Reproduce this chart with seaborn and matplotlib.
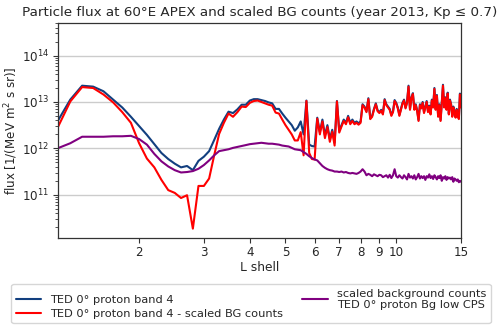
import numpy as np
import pandas as pd
import matplotlib
matplotlib.use("Agg")
import matplotlib.pyplot as plt
import matplotlib.ticker as mticker
import seaborn as sns

# L shell sampling grid (step 0.1 from 1.2 to 15.0)
L_shell = np.round(np.arange(1.2, 15.0001, 0.1), 1)

# log10 of flux values
band4_log10 = [
    12.58, 13.05, 13.35, 13.33, 13.23, 13.05, 12.88, 12.68, 12.48, 12.29,   # 1.2-2.1
    12.09, 11.90, 11.77, 11.67, 11.59, 11.62, 11.53, 11.73, 11.82, 11.94,   # 2.2-3.1
    12.18, 12.42, 12.62, 12.79, 12.76, 12.84, 12.94, 12.94, 13.03, 13.06,   # 3.2-4.1
    13.06, 13.04, 13.02, 12.99, 12.97, 12.85, 12.85, 12.75, 12.66, 12.58,   # 4.2-5.1
    12.50, 12.38, 12.45, 12.58, 12.30, 13.03, 12.08, 12.05, 12.04, 12.66,   # 5.2-6.1
    12.35, 12.62, 12.28, 12.50, 12.20, 12.40, 12.12, 13.02, 12.38, 12.50,   # 6.2-7.1
    12.62, 12.55, 12.70, 12.55, 12.62, 12.55, 12.58, 12.54, 12.58, 12.95,   # 7.2-8.1
    12.90, 12.80, 13.08, 12.65, 12.70, 12.85, 12.97, 12.82, 12.78, 12.83,   # 8.2-9.1
    12.75, 13.06, 12.95, 12.90, 12.85, 12.72, 12.80, 13.04, 12.98, 12.88,   # 9.2-10.1
    12.72, 12.85, 12.98, 13.05, 12.88, 13.00, 13.35, 12.85, 13.10, 13.19,   # 10.2-11.1
    12.85, 12.95, 12.82, 12.61, 12.95, 12.88, 13.00, 12.78, 12.90, 13.02,   # 11.2-12.1
    12.80, 12.92, 12.75, 13.05, 12.90, 13.30, 12.85, 13.15, 12.70, 12.95,   # 12.2-13.1
    12.61, 13.00, 13.37, 12.90, 13.10, 12.85, 13.20, 12.75, 13.05, 12.95,   # 13.2-14.1
    12.70, 12.90, 12.78, 12.68, 12.85, 12.72, 12.65, 13.18, 12.90,          # 14.2-15.0
]

corrected_log10 = [
    12.44, 13.01, 13.32, 13.30, 13.16, 12.99, 12.78, 12.55, 12.11, 11.78,   # 1.2-2.1
    11.59, 11.32, 11.10, 11.04, 10.93, 10.99, 10.27, 11.19, 11.19, 11.35,   # 2.2-3.1
    11.85, 12.31, 12.55, 12.75, 12.68, 12.78, 12.90, 12.89, 12.98, 13.02,   # 3.2-4.1
    13.03, 13.00, 12.97, 12.94, 12.92, 12.77, 12.75, 12.62, 12.50, 12.40,   # 4.2-5.1
    12.30, 12.17, 12.17, 12.35, 11.85, 13.02, 11.90, 11.77, 11.76, 12.64,   # 5.2-6.1
    12.30, 12.58, 12.22, 12.46, 12.14, 12.36, 12.06, 13.01, 12.34, 12.47,   # 6.2-7.1
    12.59, 12.52, 12.67, 12.52, 12.59, 12.52, 12.55, 12.51, 12.55, 12.93,   # 7.2-8.1
    12.88, 12.78, 13.06, 12.63, 12.68, 12.83, 12.95, 12.80, 12.76, 12.81,   # 8.2-9.1
    12.73, 13.04, 12.93, 12.88, 12.83, 12.70, 12.78, 13.02, 12.96, 12.86,   # 9.2-10.1
    12.70, 12.83, 12.96, 13.03, 12.86, 12.98, 13.33, 12.83, 13.08, 13.17,   # 10.2-11.1
    12.83, 12.93, 12.80, 12.59, 12.93, 12.86, 12.98, 12.76, 12.88, 13.00,   # 11.2-12.1
    12.78, 12.90, 12.73, 13.03, 12.88, 13.28, 12.83, 13.13, 12.68, 12.93,   # 12.2-13.1
    12.59, 12.98, 13.35, 12.88, 13.08, 12.83, 13.18, 12.73, 13.03, 12.93,   # 13.2-14.1
    12.68, 12.88, 12.76, 12.66, 12.83, 12.70, 12.63, 13.16, 12.88,          # 14.2-15.0
]

background_log10 = [
    12.00, 12.11, 12.25, 12.25, 12.25, 12.26, 12.26, 12.27, 12.20, 12.08,   # 1.2-2.1
    11.88, 11.72, 11.61, 11.53, 11.48, 11.49, 11.51, 11.56, 11.64, 11.74,   # 2.2-3.1
    11.85, 11.94, 11.96, 11.98, 12.01, 12.03, 12.05, 12.07, 12.09, 12.10,   # 3.2-4.1
    12.11, 12.12, 12.11, 12.10, 12.10, 12.09, 12.08, 12.06, 12.05, 12.04,   # 4.2-5.1
    12.01, 11.98, 11.97, 11.96, 11.92, 11.88, 11.83, 11.79, 11.76, 11.74,   # 5.2-6.1
    11.68, 11.62, 11.58, 11.55, 11.53, 11.52, 11.50, 11.50, 11.49, 11.50,   # 6.2-7.1
    11.48, 11.49, 11.47, 11.46, 11.47, 11.46, 11.45, 11.47, 11.50, 11.55,   # 7.2-8.1
    11.50, 11.42, 11.45, 11.43, 11.40, 11.44, 11.42, 11.40, 11.43, 11.42,   # 8.2-9.1
    11.38, 11.40, 11.42, 11.37, 11.43, 11.36, 11.42, 11.55, 11.40, 11.37,   # 9.2-10.1
    11.42, 11.38, 11.35, 11.42, 11.38, 11.33, 11.45, 11.37, 11.40, 11.35,   # 10.2-11.1
    11.42, 11.33, 11.38, 11.45, 11.35, 11.40, 11.36, 11.40, 11.32, 11.40,   # 11.2-12.1
    11.37, 11.44, 11.36, 11.40, 11.34, 11.42, 11.38, 11.33, 11.40, 11.36,   # 12.2-13.1
    11.42, 11.30, 11.38, 11.35, 11.40, 11.32, 11.38, 11.35, 11.37, 11.33,   # 13.2-14.1
    11.38, 11.28, 11.35, 11.33, 11.30, 11.33, 11.27, 11.30, 11.28,          # 14.2-15.0
]

x_ticks = [2, 3, 4, 5, 6, 7, 8, 9, 10, 15]
labels = ["TED 0° proton band 4",
          "TED 0° proton band 4 - scaled BG counts",
          "scaled background counts\nTED 0° proton Bg low CPS"]
colors = ["#123f7f", "#ff0000", "#800080"]

df = pd.DataFrame({
    "L": L_shell,
    labels[0]: 10.0 ** np.array(band4_log10),
    labels[1]: 10.0 ** np.array(corrected_log10),
    labels[2]: 10.0 ** np.array(background_log10),
})

sns.set_style("ticks")
plt.rcParams["font.family"] = ["DejaVu Sans"]

fig, ax = plt.subplots(figsize=(5.0, 3.34), dpi=100)
fig.subplots_adjust(left=0.115, right=0.922, bottom=0.287, top=0.931)

for lab, col in zip(labels, colors):
    sns.lineplot(data=df, x="L", y=lab, color=col, linewidth=1.5, label=lab, ax=ax)

ax.set_xscale("log")
ax.set_yscale("log")
ax.set_xlim(1.2, 15)
ax.set_ylim(10 ** 10.065, 10 ** 14.7)
ax.xaxis.set_major_locator(mticker.FixedLocator(x_ticks))
ax.xaxis.set_major_formatter(mticker.FixedFormatter([str(t) for t in x_ticks]))
ax.xaxis.set_minor_locator(mticker.NullLocator())
ax.yaxis.set_major_locator(mticker.LogLocator(base=10, numticks=10))
ax.yaxis.set_minor_locator(mticker.LogLocator(base=10, subs=np.arange(2, 10), numticks=20))
ax.yaxis.set_minor_formatter(mticker.NullFormatter())
ax.yaxis.grid(True, which="major", color="#cccccc", linewidth=1)
ax.xaxis.grid(False)
ax.tick_params(axis="both", which="major", labelsize=8.6, length=3.5, width=0.8,
               color="#333333", pad=2.5)
ax.tick_params(axis="y", which="minor", length=2, width=0.6, color="#333333")
for s in ax.spines.values():
    s.set_color("#333333")
    s.set_linewidth(0.9)

ax.set_xlabel("L shell", fontsize=8.8, labelpad=1)
ax.set_ylabel("flux [1/(MeV m$^2$ s sr)]", fontsize=8.6)
ax.yaxis.set_label_coords(-0.094, 0.5)
ax.set_title("Particle flux at 60°E APEX and scaled BG counts (year 2013, Kp ≤ 0.7)",
             fontsize=9.7, pad=5)

ax.get_legend().remove()
handles, labs = ax.get_legend_handles_labels()
fig.legend(handles, labs, loc="lower center", bbox_to_anchor=(0.502, 0.015), ncol=2,
           fontsize=8.2, frameon=True, edgecolor="#cccccc", fancybox=True,
           handlelength=2.2, columnspacing=1.7, labelspacing=0.3, borderpad=0.4)

fig.savefig("out.png", dpi=100)
